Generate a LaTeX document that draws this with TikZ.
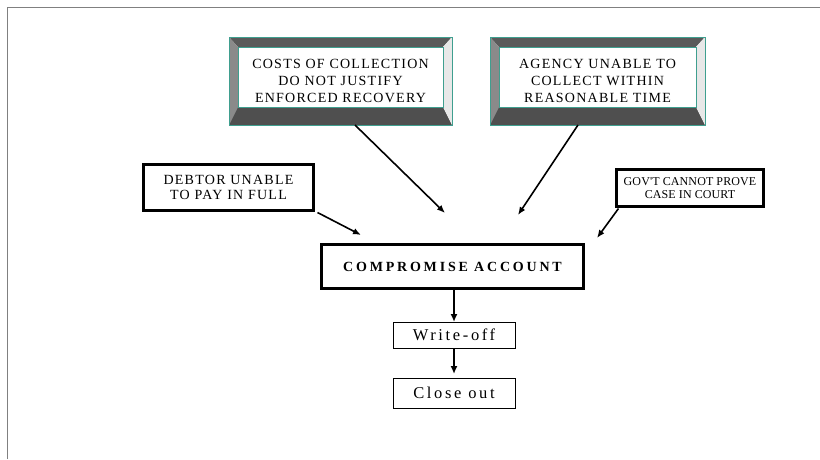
\documentclass[tikz,border=0pt]{standalone}
\usepackage{fontspec}
\setmainfont{Liberation Serif}
\newfontfamily\capsfont[LetterSpace=9]{Liberation Serif}
\newfontfamily\govfont[LetterSpace=1]{Liberation Serif}
\newfontfamily\boldspaced[LetterSpace=20]{Liberation Serif}
\newfontfamily\widefont[LetterSpace=16]{Liberation Serif}
\usetikzlibrary{arrows.meta,calc}
\definecolor{bevtopc}{HTML}{5A5A5A}
\definecolor{bevleftc}{HTML}{8A8A8A}
\definecolor{bevbotc}{HTML}{4F4F4F}
\definecolor{bevrightc}{HTML}{E8E8E8}
\definecolor{tealc}{HTML}{3F9F8F}
\definecolor{framec}{HTML}{808080}
\newcommand\bevelbox[1]{%
  \fill[bevtopc] (#1.north west) -- (#1.north east) -- ($(#1.north east)+(-9,10)$) -- ($(#1.north west)+(9,10)$) -- cycle;
  \fill[bevleftc] (#1.north west) -- ($(#1.north west)+(9,10)$) -- ($(#1.south west)+(9,-18)$) -- (#1.south west) -- cycle;
  \fill[bevbotc] (#1.south west) -- ($(#1.south west)+(9,-18)$) -- ($(#1.south east)+(-9,-18)$) -- (#1.south east) -- cycle;
  \fill[bevrightc] (#1.north east) -- ($(#1.north east)+(-9,10)$) -- ($(#1.south east)+(-9,-18)$) -- (#1.south east) -- cycle;
  \draw[tealc,line width=0.8pt] (#1.north west) rectangle (#1.south east);
  \draw[tealc,line width=0.6pt] ($(#1.north west)+(9,10)$) rectangle ($(#1.south east)+(-9,-18)$);
}
\tikzset{
  bevnode/.style={rectangle,inner sep=0pt,outer sep=0pt,align=center,
    font=\capsfont\fontsize{14}{17}\selectfont},
  thickbox/.style={draw=black,line width=3pt,rectangle,inner sep=0pt,outer sep=0pt,align=center},
  thinbox/.style={draw=black,line width=1pt,rectangle,inner sep=0pt,outer sep=0pt,align=center,
    font=\widefont\fontsize{16.5}{18}\selectfont},
  diagarrow/.style={line width=1.6pt,-{Latex[length=8pt,width=6.5pt]}},
  vertarrow/.style={line width=2pt,-{Latex[length=8pt,width=7pt]}}
}
\begin{document}
\begin{tikzpicture}[x=1pt,y=-1pt]
\useasboundingbox (0,0) rectangle (820,459);
\draw[framec,line width=1pt] (7,459) -- (7,7) -- (820,7);

\node[bevnode,minimum width=223pt,minimum height=88pt] (cost) at (340.5,81) {};
\bevelbox{cost}
\node[bevnode] at (cost.center) {COSTS OF COLLECTION\\DO NOT JUSTIFY\\ENFORCED RECOVERY};
\node[bevnode,minimum width=215pt,minimum height=88pt] (agency) at (597.5,81) {};
\bevelbox{agency}
\node[bevnode] at (agency.center) {AGENCY UNABLE TO\\COLLECT WITHIN\\REASONABLE TIME};

\node[thickbox,minimum width=170pt,minimum height=46pt,font=\capsfont\fontsize{14}{15}\selectfont] (debtor) at (228.5,187.5) {DEBTOR UNABLE\\TO PAY IN FULL};
\node[thickbox,minimum width=147pt,minimum height=37pt,font=\govfont\fontsize{12}{12.5}\selectfont] (gov) at (690,188) {GOV'T CANNOT PROVE\\CASE IN COURT};
\node[thickbox,minimum width=262pt,minimum height=44pt,font=\boldspaced\bfseries\fontsize{14}{16}\selectfont] (comp) at (452.5,266.5) {COMPROMISE ACCOUNT};
\node[thinbox,minimum width=122pt,minimum height=26pt] (wo) at (454,335) {Write-off};
\node[thinbox,minimum width=122pt,minimum height=30pt] (co) at (454,393) {Close out};

\coordinate (t1) at (445,213);
\coordinate (t2) at (518,215);
\coordinate (t3) at (361,235);
\coordinate (t4) at (597,238);

\draw[diagarrow] ([xshift=14.5pt]cost.south) -- (t1);
\draw[diagarrow] ([xshift=-19.5pt]agency.south) -- (t2);
\draw[diagarrow] ([xshift=4pt,yshift=-2pt]debtor.south east) -- (t3);
\draw[diagarrow] ([xshift=2pt,yshift=-2pt]gov.south west) -- (t4);
\draw[vertarrow] (comp.south -| wo.north) -- (wo.north);
\draw[vertarrow] (wo.south) -- ([yshift=4pt]co.north);
\end{tikzpicture}
\end{document}
